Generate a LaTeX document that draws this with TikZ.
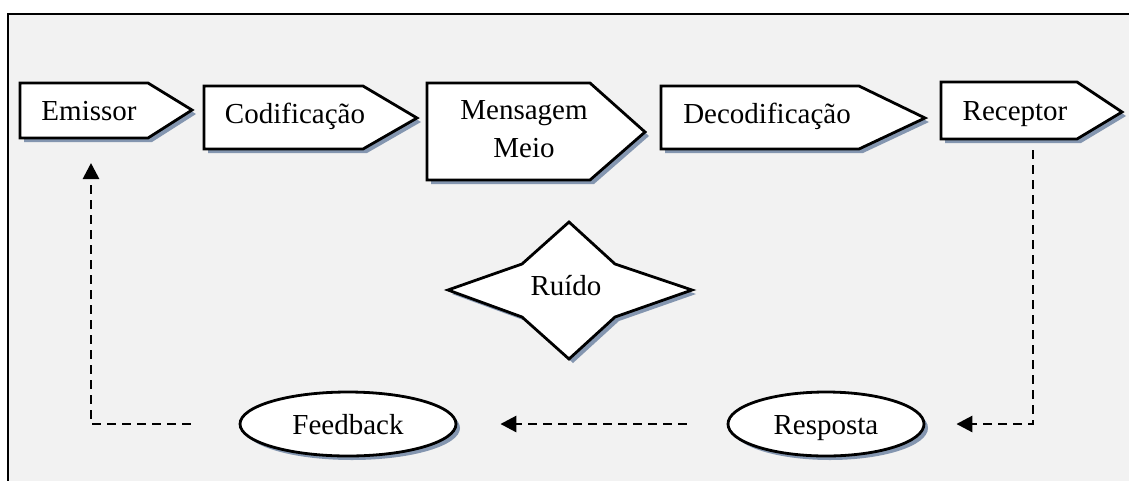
\documentclass[tikz,border=0pt]{standalone}
\usepackage{fontspec}
\setmainfont{Liberation Serif}
\usetikzlibrary{arrows.meta,shadows,shapes.geometric}
\definecolor{bgcol}{HTML}{F2F2F2}
\definecolor{shadowcol}{RGB}{132,150,176}
\tikzset{
  outl/.style={draw=black,line width=2.8pt,fill=white,line join=miter},
  shd/.style={fill=shadowcol},
  lbl/.style={font=\fontsize{29}{38}\selectfont,inner sep=0pt},
  ell/.style={ellipse,outl,inner sep=0pt,font=\fontsize{29}{38}\selectfont,
    text height=20pt,text depth=0pt,
    drop shadow={shadow xshift=4pt,shadow yshift=-4pt,fill=shadowcol,opacity=1}},
  dashline/.style={draw=black,line width=2.8pt,dash pattern=on 9pt off 6pt},
  tip/.style={-{Triangle[length=16pt,width=16pt]}}
}
% #1 name, #2 x left, #3 x body right, #4 x tip, #5 y top, #6 y bottom, #7 y tip
\newcommand\pentbox[7]{%
  \begin{scope}[shift={(4,4)}]
    \fill[shd] (#2,#5) -- (#3,#5) -- (#4,#7) -- (#3,#6) -- (#2,#6) -- cycle;
  \end{scope}
  \draw[outl] (#2,#5) -- (#3,#5) -- (#4,#7) -- (#3,#6) -- (#2,#6) -- cycle;
}
\begin{document}
\begin{tikzpicture}[x=1pt,y=-1pt]
\useasboundingbox (0,0) rectangle (1129,480);
\clip (0,0) rectangle (1129,480);
\fill[white] (0,0) rectangle (1129,480);
\draw[fill=bgcol,line width=2.6pt] (8,14) rectangle (1145,495);

% top row
\pentbox{emi}{20}{148}{192}{83}{138}{110}
\node[lbl,anchor=base] (emissor) at (89,120) {Emissor};
\pentbox{cod}{204}{363}{417}{86}{149}{118}
\node[lbl,anchor=base] (codif) at (295,123) {Codificação};
\pentbox{msg}{427}{590}{645}{83}{180}{132}
\node[lbl,align=center] (mensagem) at (524,129.5) {Mensagem\\Meio};
\pentbox{dec}{661}{859}{925}{86}{149}{118}
\node[lbl,anchor=base] (decodif) at (767,123) {Decodificação};
\pentbox{rec}{941}{1077}{1122}{82}{139}{112}
\node[lbl,anchor=base] (receptor) at (1015,120) {Receptor};

% noise star
\begin{scope}[shift={(4,4)}]
\fill[shd] (569,222) -- (615,264) -- (692,290) -- (615,317) -- (569,359)
  -- (522,317) -- (448,290) -- (522,264) -- cycle;
\end{scope}
\draw[outl] (569,222) -- (615,264) -- (692,290) -- (615,317) -- (569,359)
  -- (522,317) -- (448,290) -- (522,264) -- cycle;
\node[lbl,anchor=base] (ruido) at (566,295) {Ruído};

% ellipses
\node[ell,minimum width=216pt,minimum height=64pt] (fb) at (348,424) {Feedback};
\node[ell,minimum width=196pt,minimum height=64pt] (resp) at (826,424) {Resposta};

% connectors
\coordinate (rcvout) at (1033,150);
\coordinate (emiin) at (91,163);
\draw[dashline,tip] (rcvout) |- ([xshift=31pt]resp.east);
\draw[dashline,tip] ([xshift=-40pt]resp.west) -- ([xshift=43pt]fb.east);
\draw[dashline,tip] ([xshift=-48pt]fb.west) -| (emiin);
\end{tikzpicture}
\end{document}
